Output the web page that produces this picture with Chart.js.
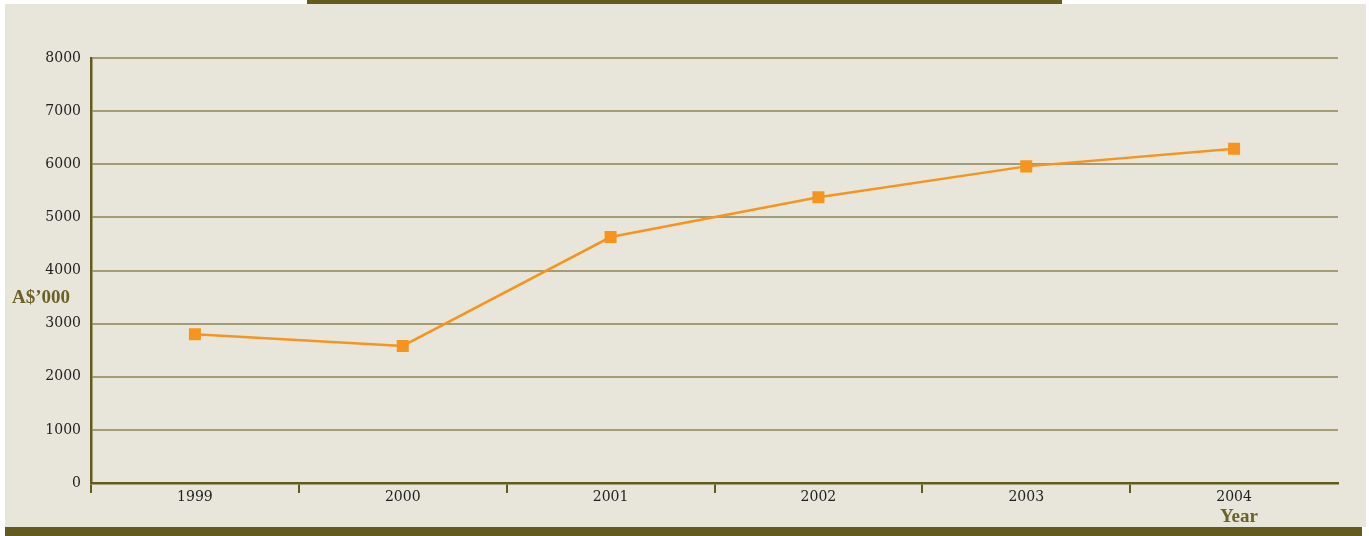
<!DOCTYPE html>
<html>
<head>
<meta charset="utf-8">
<script src="https://cdn.jsdelivr.net/npm/chart.js@4"></script>
<style>
  html, body { margin: 0; padding: 0; background: #ffffff; }
  #wrap { position: relative; width: 1369px; height: 536px; overflow: hidden; }
  #panel { position: absolute; left: 5px; top: 4px; width: 1361px; height: 523px; background: #e8e6da; }
  #topBar { position: absolute; left: 307px; top: 0; width: 755px; height: 4px; background: #635a1e; }
  #bottomBar { position: absolute; left: 5px; top: 527px; width: 1357px; height: 9px; background: #635a1e; }
  .lbl { position: absolute; font-family: 'Liberation Serif', serif; font-weight: bold; color: #6b6228; font-size: 19px; line-height: 20px; }
  #yTitle { left: 12px; top: 287px; }
  #xTitle { left: 1220px; top: 506px; }
  canvas { position: absolute; left: 0; top: 0; }
</style>
</head>
<body>
<div id="wrap">
  <div id="panel"></div>
  <div id="topBar"></div>
  <div id="bottomBar"></div>
  <canvas id="revenueChart" width="1369" height="536"></canvas>
  <div class="lbl" id="yTitle">A$’000</div>
  <div class="lbl" id="xTitle">Year</div>
</div>
<script>
// Anos e valores (A$'000)
const years = ['1999', '2000', '2001', '2002', '2003', '2004'];
const revenue = [2800, 2580, 4630, 5380, 5960, 6290];
const yTicks = [0, 1000, 2000, 3000, 4000, 5000, 6000, 7000, 8000];

const olive = '#635a1e';
const gridOlive = '#a49c74';
const orange = '#f7941d';
const tickFont = { family: 'DejaVu Serif', size: 14 };

const ctx = document.getElementById('revenueChart').getContext('2d');

new Chart(ctx, {
    type: 'line',
    data: {
        labels: years,
        datasets: [{
            data: revenue,
            borderColor: orange,
            backgroundColor: orange,
            borderWidth: 2.5,
            tension: 0,
            pointStyle: 'rect',
            pointRadius: 8.5,
            pointBackgroundColor: orange,
            pointBorderWidth: 0,
        }],
    },
    options: {
        responsive: false,
        animation: false,
        layout: { padding: { left: 0, top: 58, right: 31, bottom: 0 } },
        plugins: { legend: { display: false }, tooltip: { enabled: false } },
        scales: {
            x: {
                offset: true,
                afterFit: (scale) => { scale.height = 53; },
                border: { color: olive, width: 2.5 },
                grid: {
                    offset: true,
                    drawOnChartArea: false,
                    drawTicks: true,
                    tickLength: 10,
                    lineWidth: 2,
                    // a última marca (fim do eixo) não tem tick associado
                    color: (c) => (c.tick ? olive : 'rgba(0,0,0,0)'),
                },
                ticks: {
                    color: '#222222',
                    padding: -4,
                    font: tickFont,
                },
            },
            y: {
                min: 0,
                max: 8000,
                afterFit: (scale) => { scale.width = 91; },
                afterBuildTicks: (scale) => { scale.ticks = yTicks.map((v) => ({ value: v })); },
                border: { color: olive, width: 2.5 },
                grid: {
                    drawTicks: false,
                    lineWidth: 2,
                    color: gridOlive,
                },
                ticks: {
                    color: '#222222',
                    padding: 10,
                    font: tickFont,
                    callback: (v) => String(v),
                },
            },
        },
    },
});
</script>
</body>
</html>
